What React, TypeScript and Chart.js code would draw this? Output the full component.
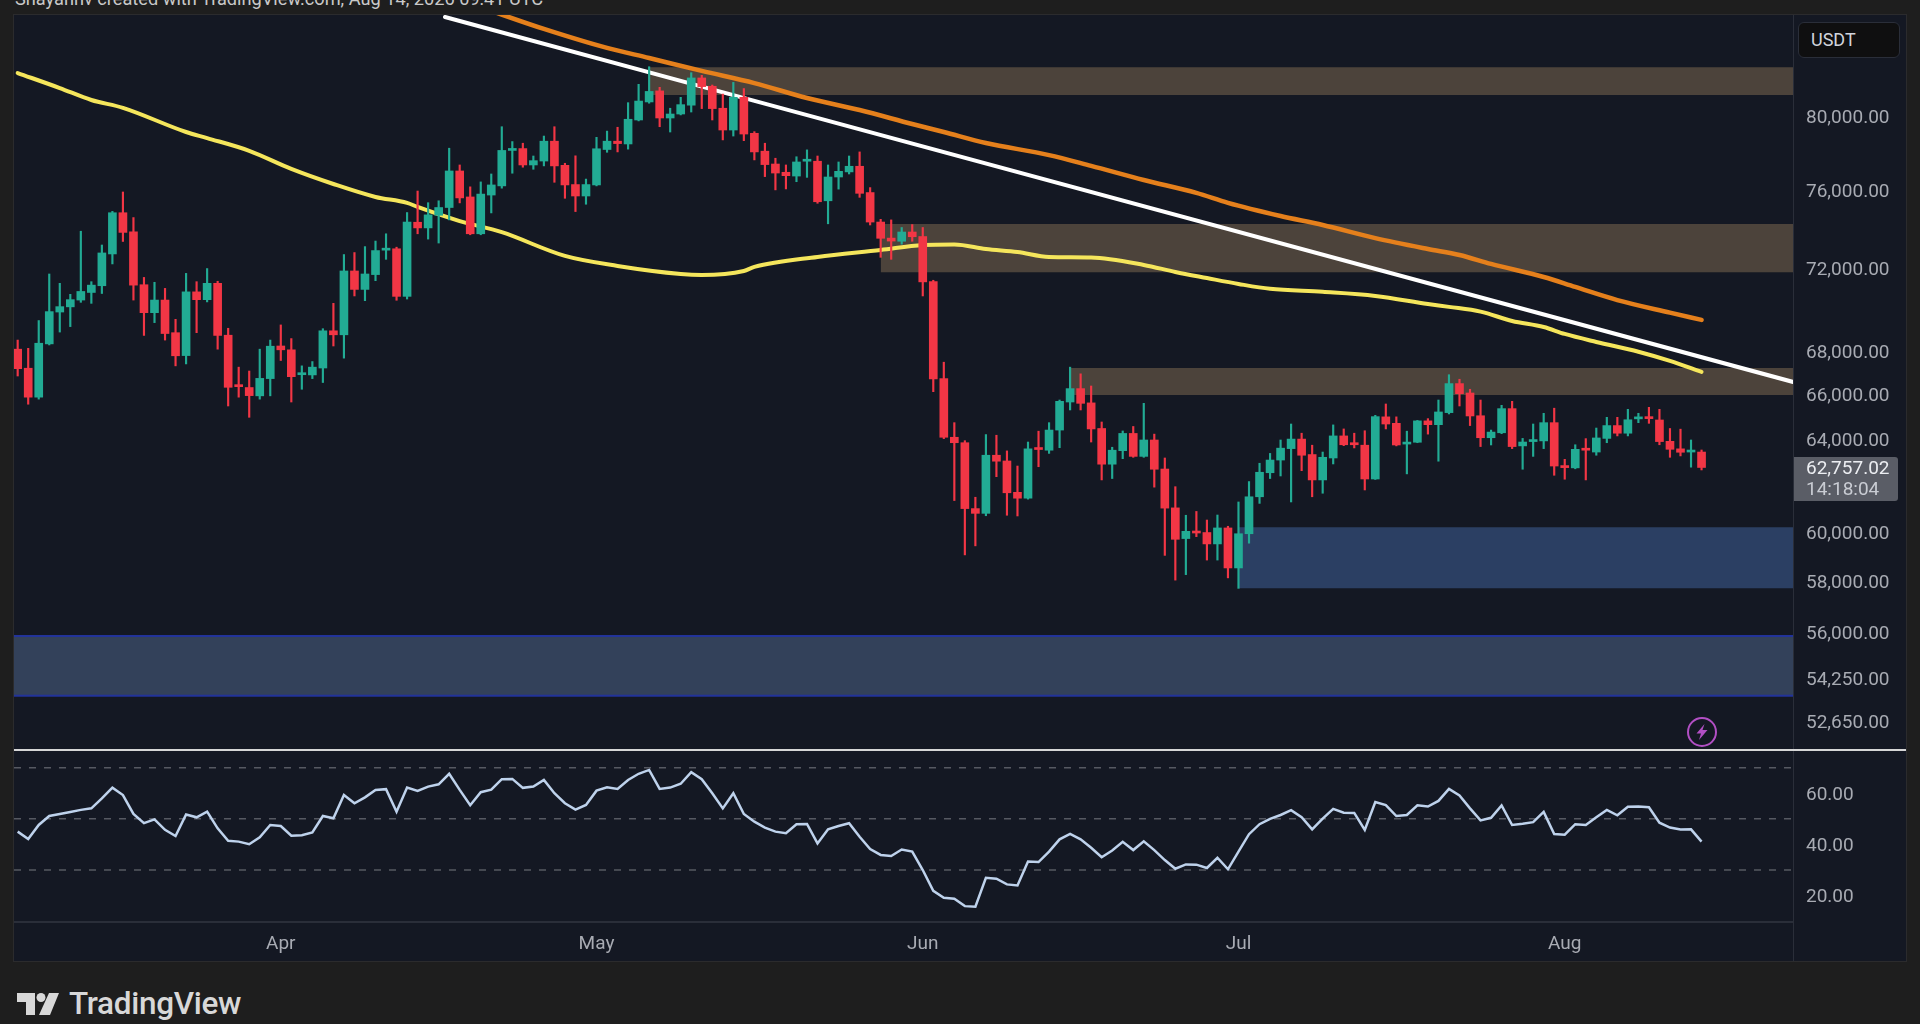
import React, { useEffect, useRef } from 'react';
import { Chart, registerables } from 'chart.js';

Chart.register(...registerables);

// daily candles, Mar 7 to Aug 14
const opens = [
  68100, 67210, 65880, 68350, 69870, 70120, 70450, 70820, 71150, 72730,
  74830, 73850, 71200, 69840, 70450, 68880, 67800, 70850, 70470, 71270,
  68760, 66410, 66320, 65940, 66730, 68250, 68070, 66910, 66900, 67220,
  68970, 68780, 71880, 70970, 71700, 72920, 72990, 70630, 74340, 74050,
  74700, 75100, 77020, 75650, 73750, 75750, 76230, 78120, 78220, 77340,
  77550, 78620, 77320, 76300, 75700, 76280, 78170, 78620, 78470, 79780,
  80780, 81400, 79890, 80110, 80600, 82130, 81660, 80430, 79230, 81040,
  79050, 78080, 77390, 76950, 76750, 77540, 77540, 75450, 76700, 76970,
  77270, 75880, 74350, 73530, 73370, 73840, 73610, 71350, 66730, 64080,
  63840, 61000, 60800, 63290, 63040, 61690, 61440, 63600, 63510, 64400,
  65660, 66270, 65620, 64470, 62900, 63490, 64250, 63240, 63960, 62690,
  61030, 59750, 60050, 60000, 59530, 60190, 58550, 59950, 61500, 62530,
  63080, 63580, 64000, 63320, 62220, 63170, 64140, 63840, 63730, 62260,
  64990, 64700, 63780, 63860, 64810, 64640, 65180, 66500, 66070, 65040,
  64060, 64280, 65360, 63700, 63890, 63920, 64730, 62840, 62740, 63580,
  63430, 64030, 64600, 64260, 64900, 64950, 64850, 63900, 63570, 63430,
  63430,
];
const highs = [
  68530, 68140, 69460, 71730, 71270, 70730, 73880, 71350, 73180, 74900,
  75910, 74580, 71560, 71320, 71020, 69520, 71760, 71350, 72000, 71370,
  69090, 67260, 67080, 68100, 68530, 69250, 68600, 67320, 67520, 69070,
  70290, 72700, 72800, 73100, 73380, 73750, 73070, 74840, 75960, 75350,
  75450, 78240, 77340, 76180, 76440, 76860, 79410, 78600, 78510, 77820,
  78900, 79410, 77430, 77830, 76590, 78830, 79170, 79380, 80740, 81770,
  82770, 81600, 80430, 81040, 82430, 82280, 81730, 81220, 81880, 81530,
  79140, 78510, 77700, 77340, 77780, 78150, 77820, 77340, 77500, 77820,
  78040, 76140, 74490, 74460, 74070, 74220, 74070, 71420, 67490, 64730,
  63930, 61480, 64200, 64170, 63480, 62820, 63870, 64350, 64730, 65750,
  67260, 66950, 66390, 64760, 63640, 64360, 64560, 65600, 64220, 63170,
  61930, 60720, 60880, 60520, 60730, 60260, 61280, 62150, 62940, 63370,
  63960, 64670, 64260, 63730, 63430, 64630, 64450, 64260, 64370, 65060,
  65570, 64990, 64350, 64830, 64910, 65750, 66910, 66700, 66240, 65750,
  64400, 65510, 65690, 64030, 64670, 65150, 65380, 63110, 63750, 64020,
  64490, 64970, 64970, 65330, 65150, 65420, 65330, 64470, 64440, 63960,
  63520,
];
const lows = [
  66850, 65560, 65790, 68300, 68910, 69170, 70340, 70290, 70770, 72230,
  73360, 70450, 68750, 69360, 68530, 67320, 67410, 68880, 70360, 68100,
  65480, 65880, 64970, 65790, 65940, 67570, 65660, 66240, 66730, 66550,
  68250, 67680, 70650, 70420, 71400, 72460, 70440, 70500, 73750, 73480,
  73280, 74460, 75340, 73700, 73700, 74820, 76110, 76900, 77220, 77110,
  77290, 76420, 75580, 74890, 75270, 76230, 78020, 78040, 78190, 79730,
  80710, 79410, 79120, 80060, 80220, 80410, 79780, 78690, 78900, 78650,
  77610, 76720, 76020, 76070, 76450, 76680, 75320, 74260, 76060, 76860,
  75630, 74200, 72560, 72460, 73220, 73370, 70650, 66130, 64020, 61340,
  59080, 59450, 60700, 62360, 60720, 60690, 61400, 62790, 63370, 63620,
  65300, 65300, 63870, 62220, 62280, 63140, 63200, 63200, 61910, 59060,
  58060, 58280, 59830, 58870, 58870, 58150, 57730, 59560, 61220, 62280,
  62390, 61280, 62620, 61500, 61650, 62910, 63710, 63610, 61790, 62240,
  64450, 63700, 62480, 63840, 64220, 63030, 65120, 65480, 64600, 63670,
  63740, 64240, 63580, 62680, 63240, 63580, 62420, 62250, 62700, 62220,
  63290, 63840, 64140, 64140, 64730, 64700, 63750, 63200, 63260, 62770,
  62650,
];
const closes = [
  67190, 65880, 68380, 69890, 70130, 70470, 70870, 71180, 72780, 74830,
  73820, 71180, 69840, 70450, 68840, 67790, 70850, 70470, 71270, 68750,
  66330, 66360, 65950, 66740, 68240, 68070, 66820, 66940, 67260, 68970,
  68780, 71880, 70970, 71730, 72900, 72950, 70630, 74350, 74050, 74720,
  75100, 77020, 75600, 73750, 75800, 76280, 78120, 78190, 77340, 77570,
  78620, 77290, 76280, 75700, 76300, 78210, 78620, 78490, 79820, 80830,
  81370, 79890, 80110, 80630, 82130, 81640, 80410, 79230, 81040, 79010,
  78040, 77360, 76910, 76770, 77500, 77590, 75400, 76700, 77000, 77270,
  75840, 74350, 73520, 73380, 73840, 73600, 71340, 66710, 64080, 63840,
  61000, 60800, 63290, 63030, 61670, 61440, 63570, 63540, 64400, 65690,
  66270, 65600, 64450, 62900, 63510, 64250, 63240, 63960, 62680, 61020,
  59720, 60050, 59980, 59530, 60190, 58550, 59950, 61500, 62550, 63080,
  63600, 64000, 63290, 62220, 63200, 64140, 63750, 63750, 62260, 65000,
  64670, 63740, 63860, 64810, 64640, 65210, 66500, 66040, 65030, 64060,
  64310, 65360, 63670, 63870, 63950, 64730, 62820, 62750, 63550, 63510,
  64050, 64600, 64260, 64860, 64940, 64910, 63890, 63550, 63420, 63480,
  62757.02,
];
const rsi = [
  45.0, 42.1, 47.6, 51.1, 51.9, 52.7, 53.5, 54.1, 58.0, 62.2,
  59.3, 51.9, 48.3, 49.8, 45.7, 43.3, 51.7, 50.6, 52.8, 46.3,
  41.4, 41.1, 40.1, 42.8, 47.6, 47.2, 43.4, 43.6, 44.7, 51.1,
  50.2, 59.3, 56.1, 58.4, 61.3, 61.6, 52.8, 62.2, 60.9, 62.6,
  63.5, 67.6, 61.3, 55.3, 60.4, 61.4, 65.5, 65.6, 62.1, 62.6,
  65.2, 60.0, 56.1, 53.6, 55.4, 61.0, 62.3, 61.7, 65.2, 67.6,
  69.1, 61.7, 62.2, 63.7, 68.2, 65.5, 60.0, 54.1, 60.0, 51.9,
  48.9, 46.6, 45.0, 44.4, 47.9, 48.0, 40.4, 45.9, 47.2, 48.3,
  43.0, 38.2, 35.9, 35.5, 38.0, 37.2, 30.0, 21.9, 19.2, 18.8,
  15.9, 15.7, 27.0, 26.6, 24.4, 24.0, 33.3, 33.1, 37.2, 42.0,
  44.1, 42.0, 38.7, 35.0, 37.6, 41.0, 37.8, 41.2, 37.8, 33.9,
  30.5, 32.2, 32.1, 30.8, 34.8, 30.3, 37.2, 44.0, 47.9, 50.0,
  51.5, 53.4, 50.6, 45.9, 50.1, 53.9, 52.4, 52.3, 45.7, 56.6,
  55.4, 51.1, 51.5, 55.3, 54.8, 57.0, 61.7, 59.1, 54.1, 49.4,
  50.4, 55.2, 47.6, 48.1, 48.7, 52.7, 44.1, 43.8, 47.9, 47.6,
  50.6, 53.5, 51.4, 54.7, 54.8, 54.5, 48.5, 46.6, 45.8, 45.9,
  41.1,
];

// moving averages, read at these candle numbers
const yellowDays = [
  0, 4, 7, 10, 16, 18, 22, 26, 30, 34, 37, 38, 42, 46, 52, 57, 63, 65, 69, 70, 76, 82, 86, 89, 92,
  95, 98, 102, 107, 110, 113, 116, 119, 124, 129, 134, 136, 139, 142, 145, 147, 150, 154, 157, 160,
];
const yellowValues = [
  82410, 81560, 80890, 80450, 79120, 78790, 78100, 77130, 76330, 75650, 75340, 75130, 74400, 73830,
  72630, 72130, 71730, 71680, 71880, 72080, 72580, 72930, 73180, 73210, 72980, 72830, 72580, 72550,
  72180, 71830, 71530, 71240, 71000, 70850, 70650, 70260, 70120, 69890, 69440, 69150, 68820, 68440,
  67980, 67550, 67040,
];
const orangeDays = [
  45, 50, 56, 60, 65, 70, 75, 80, 85, 88, 92, 98, 102, 107, 112, 115, 120, 124, 129, 134, 137, 140,
  145, 148, 152, 157, 160,
];
const orangeValues = [
  86020, 84960, 83850, 83270, 82530, 81840, 81000, 80330, 79560, 79120, 78520, 77870, 77290, 76540,
  75860, 75340, 74660, 74200, 73530, 72980, 72680, 72230, 71580, 71090, 70450, 69840, 69490,
];
const trendDays = [40.6, 168.7];
const trendValues = [85660, 66575];

// supply and demand boxes
const zoneStarts = [60, 82, 100, 116, -0.35];
const zoneTops = [82740, 74250, 67220, 60220, 55860];
const zoneBottoms = [81170, 71820, 65980, 57730, 53600];
const zoneColors = ['#4c433b', '#4c433b', '#4c433b', '#2b3f63', '#33415a'];

const priceTicks = [80000, 76000, 72000, 68000, 66000, 64000, 60000, 58000, 56000, 54250, 52650];
const rsiTicks = [60, 40, 20];
const rsiBands = [70, 50, 30];
const monthDays = [25, 55, 86, 116, 147];
const monthLabels = ['Apr', 'May', 'Jun', 'Jul', 'Aug'];

const UP = '#22ab94';
const DOWN = '#f23645';
const BG = '#141823';
const AXIS_TEXT = '#a8abb3';
const AXIS_LINE = '#2a2e39';
const FONT = 'Roboto';
const X_MIN = -0.35;
const X_MAX = 168.69;
const AXIS_WIDTH = 113;

// no extra room for the first and last tick label: the plot fills the pane
const fitAxis = (scale: any) => {
  scale.width = AXIS_WIDTH;
  scale.paddingTop = 0;
  scale.paddingBottom = 0;
};

const App: React.FC = () => {
  const priceRef = useRef<HTMLCanvasElement>(null);
  const rsiRef = useRef<HTMLCanvasElement>(null);

  useEffect(() => {
    if (!priceRef.current || !rsiRef.current) return;

    const candleColors = closes.map((c, i) => (c >= opens[i] ? UP : DOWN));

    const zoneSets = zoneStarts.map((start, i) => ({
      type: 'line' as const,
      data: [
        { x: start, y: zoneTops[i] },
        { x: X_MAX, y: zoneTops[i] },
      ],
      fill: { value: zoneBottoms[i] },
      backgroundColor: zoneColors[i],
      borderWidth: 0,
      pointRadius: 0,
      order: 50,
    }));

    const edge = (value: number) => ({
      type: 'line' as const,
      data: [
        { x: X_MIN, y: value },
        { x: X_MAX, y: value },
      ],
      borderColor: '#22339a',
      borderWidth: 2,
      pointRadius: 0,
      order: 40,
    });

    const curve = (xs: number[], ys: number[], color: string, width: number, order: number) => ({
      type: 'line' as const,
      data: xs.map((x, i) => ({ x, y: ys[i] })),
      borderColor: color,
      borderWidth: width,
      borderCapStyle: 'round' as const,
      cubicInterpolationMode: 'monotone' as const,
      pointRadius: 0,
      order,
    });

    const priceChart = new Chart(priceRef.current, {
      type: 'bar',
      data: {
        datasets: [
          ...zoneSets,
          edge(zoneTops[4]),
          edge(zoneBottoms[4]),
          curve(yellowDays, yellowValues, '#f5e65c', 4, 30),
          curve(orangeDays, orangeValues, '#e5801c', 4.5, 29),
          curve(trendDays, trendValues, '#ffffff', 4, 28),
          {
            type: 'bar' as const,
            data: highs.map((h, i) => ({ x: i, y: [lows[i], h] })),
            backgroundColor: candleColors,
            grouped: false,
            barPercentage: 1,
            categoryPercentage: 1,
            maxBarThickness: 1.5,
            order: 11,
          },
          {
            type: 'bar' as const,
            data: closes.map((c, i) => ({ x: i, y: [opens[i], c] })),
            backgroundColor: candleColors,
            grouped: false,
            barPercentage: 1,
            categoryPercentage: 1,
            maxBarThickness: 8,
            minBarLength: 2,
            order: 10,
          },
        ] as any,
      },
      options: {
        responsive: true,
        maintainAspectRatio: false,
        animation: false,
        layout: { padding: 0 },
        plugins: { legend: { display: false }, tooltip: { enabled: false }, title: { display: false } },
        scales: {
          x: { type: 'linear', display: false, min: X_MIN, max: X_MAX, offset: false },
          y: {
            type: 'logarithmic',
            position: 'right',
            min: 51632,
            max: 85780,
            grid: { display: false, drawTicks: false },
            border: { display: false },
            afterBuildTicks: (scale: any) => {
              scale.ticks = priceTicks.map((value) => ({ value }));
            },
            afterFit: fitAxis,
            ticks: {
              autoSkip: false,
              padding: 13,
              labelOffset: 2,
              color: AXIS_TEXT,
              font: { family: FONT, size: 19 },
              callback: (v: any) =>
                Number(v).toLocaleString('en-US', { minimumFractionDigits: 2, maximumFractionDigits: 2 }),
            },
          },
        },
      },
    });

    const rsiChart = new Chart(rsiRef.current, {
      type: 'line',
      data: {
        datasets: [
          ...rsiBands.map((band) => ({
            data: [
              { x: X_MIN, y: band },
              { x: X_MAX, y: band },
            ],
            borderColor: '#565962',
            borderWidth: 1.5,
            borderDash: [7, 8],
            pointRadius: 0,
            order: 5,
          })),
          {
            data: rsi.map((y, x) => ({ x, y })),
            borderColor: '#bed2ec',
            borderWidth: 2.5,
            pointRadius: 0,
            order: 1,
          },
        ],
      },
      options: {
        responsive: true,
        maintainAspectRatio: false,
        animation: false,
        layout: { padding: 0 },
        plugins: { legend: { display: false }, tooltip: { enabled: false }, title: { display: false } },
        scales: {
          x: {
            type: 'linear',
            min: X_MIN,
            max: X_MAX,
            grid: { display: false, drawTicks: false },
            border: { display: true, color: AXIS_LINE, width: 2 },
            afterBuildTicks: (scale: any) => {
              scale.ticks = monthDays.map((value) => ({ value }));
            },
            afterFit: (scale: any) => {
              scale.height = 38;
              scale.paddingLeft = 0;
              scale.paddingRight = 0;
            },
            ticks: {
              autoSkip: false,
              maxRotation: 0,
              padding: 11,
              color: AXIS_TEXT,
              font: { family: FONT, size: 19 },
              callback: (v: any) => monthLabels[monthDays.indexOf(Number(v))],
            },
          },
          y: {
            type: 'linear',
            position: 'right',
            min: 9.7,
            max: 76.5,
            grid: { display: false, drawTicks: false },
            border: { display: false },
            afterBuildTicks: (scale: any) => {
              scale.ticks = rsiTicks.map((value) => ({ value }));
            },
            afterFit: fitAxis,
            ticks: {
              autoSkip: false,
              padding: 13,
              labelOffset: 2,
              color: AXIS_TEXT,
              font: { family: FONT, size: 19 },
              callback: (v: any) => Number(v).toFixed(2),
            },
          },
        },
      },
    });

    return () => {
      priceChart.destroy();
      rsiChart.destroy();
    };
  }, []);

  return (
    <div style={{ position: 'fixed', inset: 0, background: '#1e1e1e', overflow: 'hidden', fontFamily: FONT }}>
      <div
        style={{
          position: 'absolute',
          left: 15,
          top: -11,
          fontSize: 18.2,
          lineHeight: '20px',
          color: '#c9c9c9',
          whiteSpace: 'nowrap',
        }}
      >
        Shayanhv created with TradingView.com, Aug 14, 2026 09:41 UTC
      </div>

      <div
        style={{
          position: 'absolute',
          left: 14,
          top: 15,
          width: 1892,
          height: 946,
          background: BG,
          boxShadow: '0 0 0 1px #2b2b2d',
        }}
      />
      <div style={{ position: 'absolute', left: 14, top: 15, width: 1892, height: 735 }}>
        <canvas ref={priceRef} />
      </div>
      <div style={{ position: 'absolute', left: 14, top: 751, width: 1892, height: 209 }}>
        <canvas ref={rsiRef} />
      </div>

      <div style={{ position: 'absolute', left: 1793, top: 15, width: 1, height: 946, background: AXIS_LINE }} />
      <div style={{ position: 'absolute', left: 14, top: 749, width: 1892, height: 2, background: '#d6d6d6' }} />

      <div
        style={{
          position: 'absolute',
          left: 1798,
          top: 22,
          width: 102,
          height: 36,
          boxSizing: 'border-box',
          background: '#0f0f10',
          border: '1px solid #2a2e39',
          borderRadius: 6,
          color: '#d1d4dc',
          fontSize: 18,
          lineHeight: '34px',
          paddingLeft: 12,
        }}
      >
        USDT
      </div>

      <div
        style={{
          position: 'absolute',
          left: 1794,
          top: 457,
          width: 104,
          height: 44,
          background: '#5a5d66',
          borderRadius: '0 3px 3px 0',
          paddingLeft: 12,
          boxSizing: 'border-box',
          fontSize: 19,
        }}
      >
        <div style={{ color: '#eceef2', lineHeight: '22px' }}>62,757.02</div>
        <div style={{ color: '#c9ccd3', lineHeight: '20px' }}>14:18:04</div>
      </div>

      <svg style={{ position: 'absolute', left: 1685, top: 715 }} width="34" height="34" viewBox="0 0 34 34">
        <circle cx="17" cy="17" r="14" fill="none" stroke="#b24fc4" strokeWidth="2" />
        <path d="M19.5 9 L11.5 18.5 H16 L14 25 L22.5 15 H17.5 Z" fill="#b24fc4" />
      </svg>

      <svg style={{ position: 'absolute', left: 17, top: 993 }} width="42" height="22" viewBox="0 0 42 22">
        <path d="M0 0 H18 V22 H9 V9 H0 Z" fill="#d8d8d8" />
        <circle cx="24" cy="4.5" r="4.5" fill="#d8d8d8" />
        <path d="M32 0 H42 L33 22 H22 Z" fill="#d8d8d8" />
      </svg>
      <div
        style={{
          position: 'absolute',
          left: 69,
          top: 986,
          fontSize: 31.5,
          lineHeight: '36px',
          fontWeight: 500,
          letterSpacing: -0.3,
          color: '#d8d8d8',
        }}
      >
        TradingView
      </div>
    </div>
  );
};

export default App;
